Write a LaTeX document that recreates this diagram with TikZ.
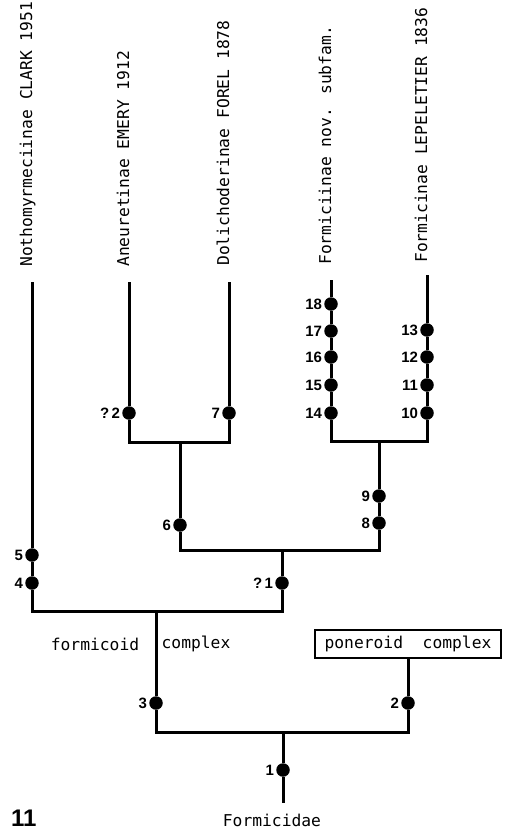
\documentclass[tikz,border=0pt]{standalone}
\usepackage{fontspec}
\usetikzlibrary{positioning}
\newfontfamily\cladefont{DejaVu Sans Mono}
\newfontfamily\charfont{Liberation Sans}

\begin{document}
\begin{tikzpicture}[
    x=1pt, y=-1pt,
    branch/.style={line width=3pt},
    taxon/.style={rotate=90, anchor=base west, inner sep=0pt,
                  font=\cladefont\fontsize{16.3}{18}\selectfont},
    grouptext/.style={inner sep=0pt, font=\cladefont\fontsize{16.3}{18}\selectfont},
    groupbox/.style={grouptext, draw=black, line width=2.8pt, minimum width=186pt, minimum height=28pt},
    dot/.style={circle, fill=black, inner sep=0pt, minimum size=13.5pt, label distance=0pt},
    every label/.style={inner sep=1.8pt, font=\charfont\bfseries\fontsize{15}{17}\selectfont}
]
\useasboundingbox (0,0) rectangle (504,832);

% Terminal taxa
\node[taxon] (notho) at (32,267) {Nothomyrmeciinae CLARK 1951};
\node[taxon] (aneu) at (129,267) {Aneuretinae EMERY 1912};
\node[taxon] (doli) at (229,266) {Dolichoderinae FOREL 1878};
\node[taxon] (formii) at (331,265) {Formiciinae nov. subfam.};
\node[taxon] (formi) at (427,263) {Formicinae LEPELETIER 1836};

\coordinate (nothoTop) at (32,282);
\coordinate (aneuTop) at (129,282);
\coordinate (doliTop) at (229,282);
\coordinate (formiiTop) at (331,280);
\coordinate (formiTop) at (427,275);

% Character states
\node[dot, label=left:18] (c18) at (331,304) {};
\node[dot, label=left:17] (c17) at (331,331) {};
\node[dot, label=left:16] (c16) at (331,357) {};
\node[dot, label=left:15] (c15) at (331,385) {};
\node[dot, label=left:14] (c14) at (331,413) {};
\node[dot, label=left:13] (c13) at (427,330) {};
\node[dot, label=left:12] (c12) at (427,357) {};
\node[dot, label=left:11] (c11) at (427,385) {};
\node[dot, label=left:10] (c10) at (427,413) {};
\node[dot, label=left:{?\,2}] (cq2) at (129,413) {};
\node[dot, label=left:7] (c7) at (229,413) {};
\node[dot, label=left:9] (c9) at (379,496) {};
\node[dot, label=left:8] (c8) at (379,523) {};
\node[dot, label=left:6] (c6) at (180,525) {};
\node[dot, label=left:5] (c5) at (32,555) {};
\node[dot, label=left:4] (c4) at (32,583) {};
\node[dot, label=left:{?\,1}] (cq1) at (282,583) {};
\node[dot, label=left:3] (c3) at (156,703) {};
\node[dot, label=left:2] (c2) at (408,703) {};
\node[dot, label=left:1] (c1) at (283,770) {};

% Forks
\coordinate (aneuBase) at (129,442);
\coordinate (doliBase) at (229,442);
\coordinate (adFork) at (180,442);
\coordinate (formiiBase) at (331,441);
\coordinate (formiBase) at (427,441);
\coordinate (dfFork) at (379,441);
\coordinate (adBase) at (180,550);
\coordinate (dfBase) at (379,550);
\coordinate (crownFork) at (282,550);
\coordinate (nothoBase) at (32,611);
\coordinate (crownBase) at (282,611);
\coordinate (formFork) at (156,611);
\coordinate (formBase) at (156,732);
\coordinate (ponBase) at (408,732);
\coordinate (rootFork) at (283,732);
\coordinate (rootBase) at (283,803);

% Group labels
\node[grouptext] (fcLeft) at (95,644) {formicoid};
\node[grouptext] (fcRight) at (196,644) {complex};
\node[groupbox] (poneroid) at (408,644) {poneroid\ \ complex};
\node[grouptext, anchor=base] (family) at (272,826) {Formicidae};
\node[anchor=base west, inner sep=0pt, font=\charfont\bfseries\fontsize{24}{26}\selectfont] (figno) at (11,826) {11};

% Branches
\draw[branch] (aneuTop) -- (cq2) -- (aneuBase) -- (doliBase) -- (c7) -- (doliTop);
\draw[branch] (formiiTop) -- (c18) -- (c17) -- (c16) -- (c15) -- (c14) -- (formiiBase)
    -- (formiBase) -- (c10) -- (c11) -- (c12) -- (c13) -- (formiTop);
\draw[branch] (adFork) -- (c6) -- (adBase) -- (dfBase) -- (c8) -- (c9) -- (dfFork);
\draw[branch] (nothoTop) -- (c5) -- (c4) -- (nothoBase) -- (crownBase) -- (cq1) -- (crownFork);
\draw[branch] (formFork) -- (c3) -- (formBase) -- (ponBase) -- (c2) -- (poneroid);
\draw[branch] (rootFork) -- (c1) -- (rootBase);

\end{tikzpicture}
\end{document}
